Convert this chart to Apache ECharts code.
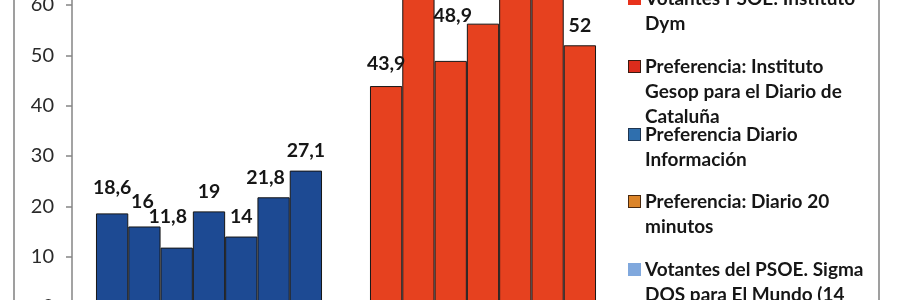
<!DOCTYPE html>
<html><head><meta charset="utf-8">
<script src="https://cdn.jsdelivr.net/npm/echarts@6/dist/echarts.min.js"></script>
<style>html,body{margin:0;padding:0;background:#fff}#c{width:900px;height:300px}</style>
</head><body><div id="c"></div>
<script>
// ---- data ----
const categories = ['Grupo 1', 'Grupo 2'];
const group1Values = [18.6, 16, 11.8, 19, 14, 21.8, 27.1];
const group2Values = [43.9, 63.5, 48.9, 56.3, 65.2, 62.4, 52];
const yTickValues = [0, 10, 20, 30, 40, 50, 60];
const legendLines = [
  ['Votantes PSOE: Instituto', 'Dym'],
  ['Preferencia: Instituto', 'Gesop para el Diario de', 'Cataluña'],
  ['Preferencia Diario', 'Información'],
  ['Preferencia: Diario 20', 'minutos'],
  ['Votantes del PSOE. Sigma', 'DOS para El Mundo (14'],
  ['Serie 6'],
  ['Serie 7']
];
const seriesNames = legendLines.map(l => l.join(' '));

// ---- styles ----
const groupColors = ['#1d4a93', '#e6411f'];
const legendColors = ['#e8321c', '#dc2c1c', '#2f6fae', '#dc8428', '#80a8dd', '#999999', '#777777'];
const legendBorders = ['#e8321c', '#3a1a10', '#1f3550', '#4a2a10', '#80a8dd', '#555', '#555'];
const legendFirstLineCenters = [-3, 65, 133, 200, 268];
const labelShift = [
  [[0, -6], [-2, -5], [-9, -11], [0, 0], [0, 0], [-8, 0], [0, 0]],
  [[0, -2], [0, 0], [2, -25], [0, -30], [0, 0], [0, 0], [0, 0]]
];
const FONT = 'Lato';

const series = seriesNames.map((name, i) => ({
  type: 'bar',
  name: name,
  barGap: '0%',
  barCategoryGap: '17.5%',
  clip: false,
  itemStyle: { color: legendColors[i], borderColor: '#161616', borderWidth: 1 },
  label: {
    show: true, position: 'top', distance: 10,
    fontFamily: FONT, fontWeight: 'bold', fontSize: 19.5, lineHeight: 20, color: '#161616',
    formatter: p => String(p.value).replace('.', ',')
  },
  data: [group1Values[i], group2Values[i]].map((v, j) => ({
    value: v,
    itemStyle: { color: groupColors[j] },
    label: { offset: labelShift[j][i] }
  }))
}));

const legends = legendFirstLineCenters.map((c, i) => ({
  data: [seriesNames[i]],
  left: 624,
  top: c - 8,
  orient: 'vertical',
  icon: 'none',
  itemWidth: 0,
  itemHeight: 0,
  padding: 0,
  selectedMode: false,
  formatter: () => legendLines[i].map((l, k) => (k === 0 ? '{box| }{sp| }' : '{ind| }') + '{t|' + l + '}').join('\n'),
  textStyle: {
    rich: {
      box: { width: 11, height: 11, backgroundColor: legendColors[i], borderColor: legendBorders[i], borderWidth: 1 },
      sp: { width: 5 },
      ind: { width: 16 },
      t: { fontFamily: FONT, fontWeight: 'bold', fontSize: 19, lineHeight: 25, color: '#161616' }
    }
  }
}));

const chart = echarts.init(document.getElementById('c'), null, { renderer: 'canvas' });
chart.setOption({
  animation: false,
  backgroundColor: '#ffffff',
  grid: { left: 72, width: 548, top: 0, height: 307, containLabel: false, outerBoundsMode: 'none' },
  xAxis: {
    type: 'category', data: categories,
    axisLine: { show: true, lineStyle: { color: '#858585' } },
    axisTick: { show: false }, axisLabel: { show: false }
  },
  yAxis: {
    type: 'value', min: 0, max: 61, interval: 10,
    axisLine: { show: true, lineStyle: { color: '#858585', width: 1.5 } },
    axisTick: { show: true, length: 6, customValues: yTickValues, lineStyle: { color: '#858585', width: 1.5 } },
    axisLabel: { customValues: yTickValues, margin: 18, fontFamily: FONT, fontSize: 20, color: '#2a2a2a' },
    splitLine: { show: false }
  },
  legend: legends,
  graphic: [{
    type: 'rect', silent: true,
    shape: { x: 14, y: -10, width: 865, height: 320 },
    style: { fill: 'none', stroke: '#808080', lineWidth: 1.5 }
  }],
  series: series
});
</script></body></html>
